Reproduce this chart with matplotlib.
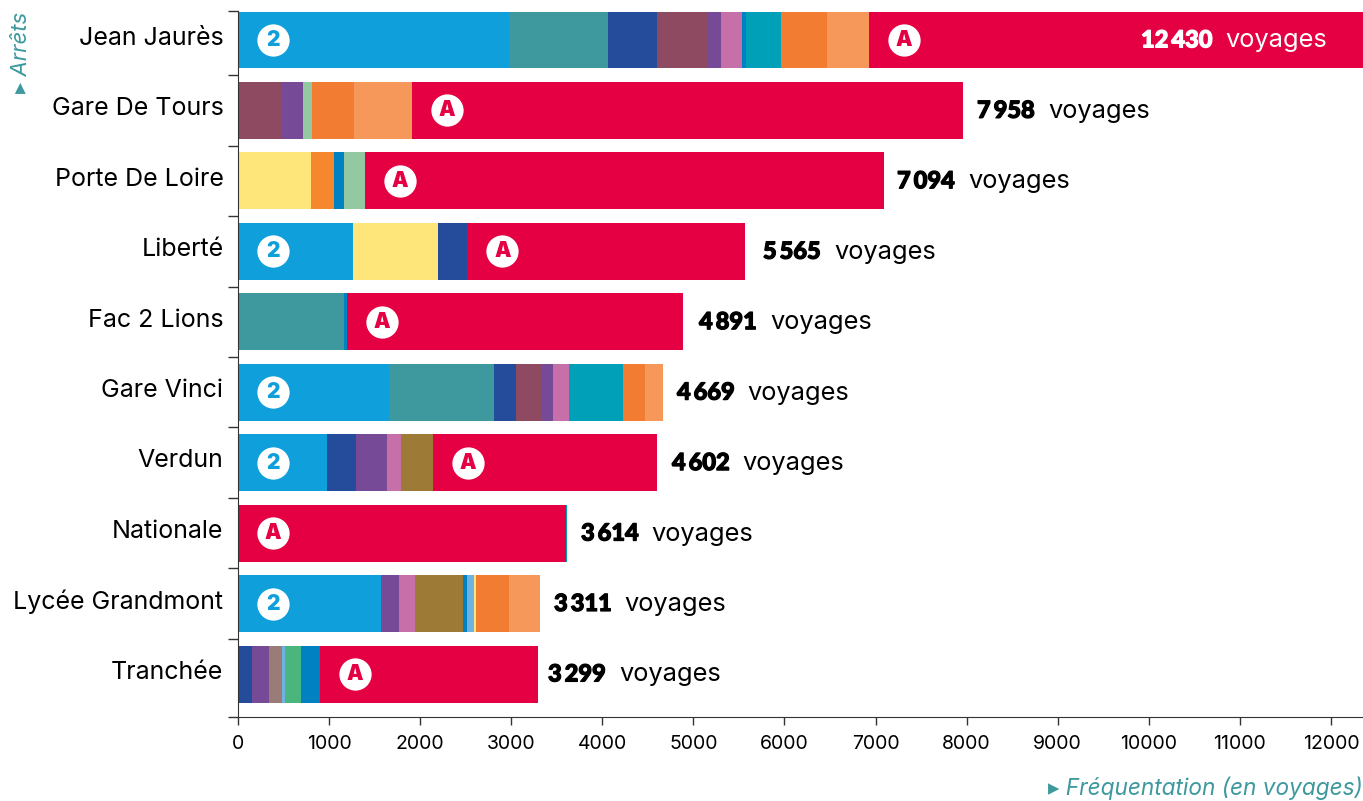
import numpy as np
import matplotlib
matplotlib.use('Agg')
import matplotlib.pyplot as plt
import matplotlib.patheffects as pe

plt.rcParams['font.family'] = ['Inter', 'DejaVu Sans']

stops = ['Jean Jaurès', 'Gare De Tours', 'Porte De Loire', 'Liberté', 'Fac 2 Lions',
         'Gare Vinci', 'Verdun', 'Nationale', 'Lycée Grandmont', 'Tranchée']
totals = [12430, 7958, 7094, 5565, 4891, 4669, 4602, 3614, 3311, 3299]
total_labels = ['12\u2009430', '7\u2009958', '7\u2009094', '5\u2009565', '4\u2009891',
                '4\u2009669', '4\u2009602', '3\u2009614', '3\u2009311', '3\u2009299']

# colours of the lines
blue = '#0FA0DB'
teal = '#3D999E'
navy = '#244C9A'
maroon = '#8E4A61'
violet = '#764A96'
pink = '#C76FA9'
deep = '#0081C2'
cyan = '#00A0B8'
orange = '#F27C31'
peach = '#F59859'
red = '#E40042'
yellow = '#FEE67B'
mint = '#93C9A0'
brown = '#9E7A37'
taupe = '#997B78'
sky = '#6FB2E2'
green = '#4AB57D'
orange2 = '#F5872D'

jean_values = [2971, 1091, 536, 549, 156, 231, 39, 389, 505, 461, 5502]
jean_colors = [blue, teal, navy, maroon, violet, pink, deep, cyan, orange, peach, red]
tours_values = [476, 240, 98, 461, 636, 6047]
tours_colors = [maroon, violet, mint, orange, peach, red]
loire_values = [801, 249, 114, 230, 5700]
loire_colors = [yellow, orange2, deep, mint, red]
liberte_values = [1263, 933, 322, 3047]
liberte_colors = [blue, yellow, navy, red]
fac_values = [1164, 33, 3694]
fac_colors = [teal, deep, red]
vinci_values = [1661, 1150, 241, 286, 121, 178, 590, 242, 200]
vinci_colors = [blue, teal, navy, maroon, violet, pink, cyan, orange, peach]
verdun_values = [977, 319, 340, 154, 347, 2465]
verdun_colors = [blue, navy, violet, pink, brown, red]
nationale_values = [3601, 13]
nationale_colors = [red, cyan]
lycee_values = [1567, 201, 175, 524, 47, 77, 22, 362, 336]
lycee_colors = [blue, violet, pink, brown, deep, sky, yellow, orange, peach]
tranchee_values = [154, 186, 143, 36, 173, 208, 2399]
tranchee_colors = [navy, violet, taupe, sky, green, deep, red]

all_values = [jean_values, tours_values, loire_values, liberte_values, fac_values,
              vinci_values, verdun_values, nationale_values, lycee_values, tranchee_values]
all_colors = [jean_colors, tours_colors, loire_colors, liberte_colors, fac_colors,
              vinci_colors, verdun_colors, nationale_colors, lycee_colors, tranchee_colors]

# where each total label starts, relative to the end of the bar
label_shift = [-2515, 156, 142, 199, 171, 151, 163, 152, 159, 105]

fig = plt.figure(figsize=(13.63, 8.01), dpi=100)
ax = fig.add_axes([238 / 1363, (801 - 717) / 801, 1125 / 1363, 706 / 801])

badge_offset = 384
for i in range(len(stops)):
    left = 0
    for val, col in zip(all_values[i], all_colors[i]):
        ax.barh(i, val, left=left, height=0.809, color=col, linewidth=0)
        if col == blue or col == red:
            ax.scatter(left + badge_offset, i, s=540, color='white', linewidth=0, zorder=3)
            ax.text(left + badge_offset, i, '2' if col == blue else 'A', color=col, fontsize=15,
                    fontweight='black', ha='center', va='center', zorder=4)
        left += val

    col = 'white' if totals[i] > 12352 else 'black'
    t = ax.text(totals[i] + label_shift[i], i + 0.105, total_labels[i], color=col, fontsize=17,
                family=['Lato', 'DejaVu Sans'], fontweight='black', va='baseline', ha='left', zorder=4,
                path_effects=[pe.withStroke(linewidth=0.9, foreground=col)])
    ax.annotate('voyages', xy=(1, i + 0.105), xycoords=(t, 'data'), xytext=(13, 0), textcoords='offset pixels',
                color=col, fontsize=18.3, va='baseline', ha='left', zorder=4)

ax.set_xlim(0, 12352)
ax.set_ylim(9.61, -0.4116)
ax.set_xticks(np.arange(0, 12001, 1000))
ax.set_yticks(np.arange(10) - 0.06, stops)
ax.set_yticks(list(np.arange(10) - 0.5)[1:] + [-0.4116, 9.61], minor=True)

ax.tick_params(axis='y', which='major', length=0, pad=10.5, labelsize=18)
ax.tick_params(axis='y', which='minor', length=7, width=1, color='#333333')
ax.tick_params(axis='x', length=6, width=1, color='#333333', labelsize=14, pad=7)

ax.spines['top'].set_visible(False)
ax.spines['right'].set_visible(False)
ax.spines['left'].set_color('#333333')
ax.spines['bottom'].set_color('#333333')

fig.text(1363 / 1363, 1 - 788 / 801, '▸ Fréquentation (en voyages)', color=teal, fontsize=16.3,
         fontstyle='italic', ha='right', va='center')
fig.text(21 / 1363, 1 - 12 / 801, '▸ Arrêts', color=teal, fontsize=16, fontstyle='italic',
         rotation=90, ha='center', va='top')

fig.savefig('out.png', dpi=100)
